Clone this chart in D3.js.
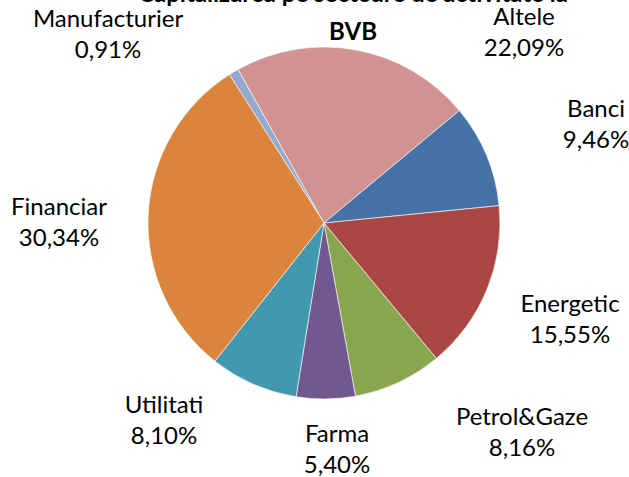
<!DOCTYPE html>
<html>
<head>
<meta charset="utf-8">
<script src="https://cdn.jsdelivr.net/npm/d3@7"></script>
<style>
  html, body { margin: 0; padding: 0; background: #fff; overflow: hidden; }
  svg { display: block; }
  text { font-family: Lato, "Open Sans", sans-serif; fill: #000; }
</style>
</head>
<body>
<svg id="chart" width="629" height="477"></svg>
<script>
// ---- data ----
const categories = ["Manufacturier", "Altele", "Banci", "Energetic", "Petrol&Gaze", "Farma", "Utilitati", "Financiar"];
const shares = [0.91, 22.09, 9.46, 15.55, 8.16, 5.40, 8.10, 30.34];
const colors = ["#93A9CF", "#D19392", "#4572A7", "#AA4643", "#89A54E", "#71588F", "#4198AF", "#DB843D"];
const titleLines = ["Capitalizarea pe sectoare de activitate la", "BVB"];

// ---- layout ----
const W = 629, H = 477;
const cx = 324, cy = 223, R = 176;
const startDeg = -32.5;
// label anchor offsets (first-line baseline) relative to pie centre
const labelOffsets = [[-216, -196], [200, -198], [272, -106], [246, 89], [198, 202], [13, 219], [-160, 190], [-265, -8]];
const lineGap = 31;

const svg = d3.select("#chart");

const pie = d3.pie()
  .sort(null)
  .value(d => d.v)
  .startAngle(startDeg * Math.PI / 180)
  .endAngle((startDeg + 360) * Math.PI / 180);

const data = categories.map((c, i) => ({ c, v: shares[i], col: colors[i], off: labelOffsets[i] }));
const arcs = pie(data);
const arc = d3.arc().innerRadius(0).outerRadius(R);

const g = svg.append("g").attr("transform", `translate(${cx},${cy})`);
g.selectAll("path")
  .data(arcs)
  .join("path")
  .attr("d", arc)
  .attr("fill", d => d.data.col)
  .attr("stroke", "#ffffff")
  .attr("stroke-width", 0.6)
  .attr("stroke-linejoin", "round");

const fmt = v => v.toFixed(2).replace(".", ",") + "%";

const labels = g.selectAll("g.lbl")
  .data(arcs)
  .join("g")
  .attr("class", "lbl")
  .attr("transform", d => `translate(${d.data.off[0]},${d.data.off[1]})`);
labels.append("text")
  .attr("text-anchor", "middle")
  .attr("font-size", 24)
  .text(d => d.data.c);
labels.append("text")
  .attr("text-anchor", "middle")
  .attr("font-size", 24)
  .attr("y", lineGap)
  .text(d => fmt(d.data.v));

// title (first line mostly clipped at the top edge)
const title = svg.append("g");
title.append("text")
  .attr("x", 353).attr("y", 1.5)
  .attr("text-anchor", "middle")
  .attr("font-size", 24)
  .attr("font-weight", "bold")
  .text(titleLines[0]);
title.append("text")
  .attr("x", 353).attr("y", 40)
  .attr("text-anchor", "middle")
  .attr("font-size", 24)
  .attr("font-weight", "bold")
  .text(titleLines[1]);
</script>
</body>
</html>
